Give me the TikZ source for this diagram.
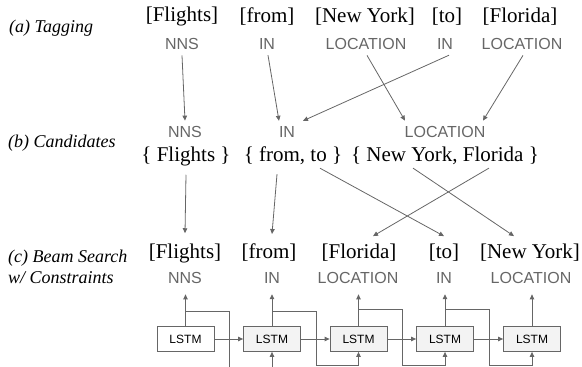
\documentclass[tikz,border=0pt]{standalone}
\usepackage{fontspec}
\setmainfont{Liberation Serif}
\setsansfont{Liberation Sans}
\usepackage{tikz}
\usetikzlibrary{arrows.meta}
\definecolor{tagcol}{HTML}{666666}
\definecolor{boxfill}{HTML}{F3F3F3}
\tikzset{
	stage/.style={inner sep=0pt, anchor=west, align=left, font=\itshape\fontsize{18}{21}\selectfont},
	word/.style={inner xsep=0pt, inner ysep=3pt, font=\fontsize{21}{25}\selectfont},
	tag/.style={inner xsep=0pt, inner ysep=5.5pt, text=tagcol, font=\sffamily\fontsize{16}{19}\selectfont},
	lstm/.style={draw=tagcol, fill=boxfill, line width=0.8pt, minimum width=57pt, minimum height=25pt, inner sep=0pt, font=\sffamily\fontsize{12}{14}\selectfont},
	conn/.style={tagcol, line width=0.8pt, ->}
}
\begin{document}
\begin{tikzpicture}[x=1pt, y=-1pt, >={Triangle[length=5pt,width=4.5pt]}]
\useasboundingbox (0,0) rectangle (582,367);
% (a) tagging
\node[stage] (la) at (9,28) {(a) Tagging};
\node[word] (wa1) at (182,16.5) {[Flights]};
\node[word] (wa2) at (267,16.5) {[from]};
\node[word] (wa3) at (365,16.5) {[New York]};
\node[word] (wa4) at (447,16.5) {[to]};
\node[word] (wa5) at (520,16.5) {[Florida]};
\node[tag] (ta1) at (182,44) {NNS};
\node[tag] (ta2) at (267,44) {IN};
\node[tag] (ta3) at (366,44) {LOCATION};
\node[tag] (ta4) at (445,44) {IN};
\node[tag] (ta5) at (522,44) {LOCATION};
% (b) candidates
\node[stage] (lb) at (8,143) {(b) Candidates};
\node[tag] (tb1) at (185,132) {NNS};
\node[tag] (tb2) at (287,132) {IN};
\node[tag] (tb3) at (445,132) {LOCATION};
\node[word] (sb1) at (186,156) {\{ Flights \}};
\node[word] (sb2) at (293,156) {\{ from, to \}};
\node[word] (sb3) at (445,156) {\{ New York, Florida \}};
% (c) beam search
\node[stage] (lc) at (8,266.5) {(c) Beam Search\\w/ Constraints};
\node[word, inner ysep=8pt] (wc1) at (185,253) {[Flights]};
\node[word, inner ysep=8pt] (wc2) at (269,253) {[from]};
\node[word, inner ysep=8pt] (wc3) at (359,253) {[Florida]};
\node[word, inner ysep=8pt] (wc4) at (444,253) {[to]};
\node[word, inner ysep=8pt] (wc5) at (530,253) {[New York]};
\node[tag, inner ysep=10.5pt] (tc1) at (185,278) {NNS};
\node[tag, inner ysep=10.5pt] (tc2) at (272,278) {IN};
\node[tag, inner ysep=10.5pt] (tc3) at (358,278) {LOCATION};
\node[tag, inner ysep=10.5pt] (tc4) at (444,278) {IN};
\node[tag, inner ysep=10.5pt] (tc5) at (531,278) {LOCATION};
\node[lstm, fill=white] (l1) at (185.5,339) {LSTM};
\node[lstm] (l2) at (272,339) {LSTM};
\node[lstm] (l3) at (358.5,339) {LSTM};
\node[lstm] (l4) at (445,339) {LSTM};
\node[lstm] (l5) at (532,339) {LSTM};

\path[conn]
(ta1.south) edge (tb1.north)
([xshift=1pt]ta2.south) edge ([xshift=-8pt]tb2.north)
([xshift=1pt]ta3.south) edge ([xshift=-40pt]tb3.north)
([xshift=4pt]ta4.south) edge ([xshift=16pt]tb2.north)
([xshift=1pt]ta5.south) edge ([xshift=38pt]tb3.north)
;
\path[conn]
([yshift=-6pt]sb1.south) edge ([yshift=2pt]wc1.north)
([xshift=-16pt,yshift=-6pt]sb2.south) edge ([xshift=3pt,yshift=2pt]wc2.north)
([xshift=27pt]sb2.south) edge (wc4.north)
([xshift=-32pt]sb3.south) edge ([xshift=-16pt]wc5.north)
([xshift=44pt]sb3.south) edge ([xshift=14pt]wc3.north)
;
\path[conn]
(l1.north) edge (l1.north |- tc1.south)
(l2.north) edge (l2.north |- tc2.south)
(l3.north) edge (l3.north |- tc3.south)
(l4.north) edge (l4.north |- tc4.south)
(l5.north) edge (l5.north |- tc5.south)
(l1) edge (l2)
(l2) edge (l3)
(l3) edge (l4)
(l4) edge (l5)
;
\draw[conn] ([yshift=15pt]l1.north) -| ([xshift=15pt,yshift=-24pt]l1.south east) -| (l2.south);
\draw[conn] ([yshift=15pt]l2.north) -| ([xshift=15pt,yshift=-13.5pt]l2.south east) -| (l3.south);
\draw[conn] ([yshift=17pt]l3.north) -| ([xshift=15pt,yshift=-13.5pt]l3.south east) -| (l4.south);
\draw[conn] ([yshift=17pt]l4.north) -| ([xshift=15pt,yshift=-13.5pt]l4.south east) -| (l5.south);
\end{tikzpicture}
\end{document}
